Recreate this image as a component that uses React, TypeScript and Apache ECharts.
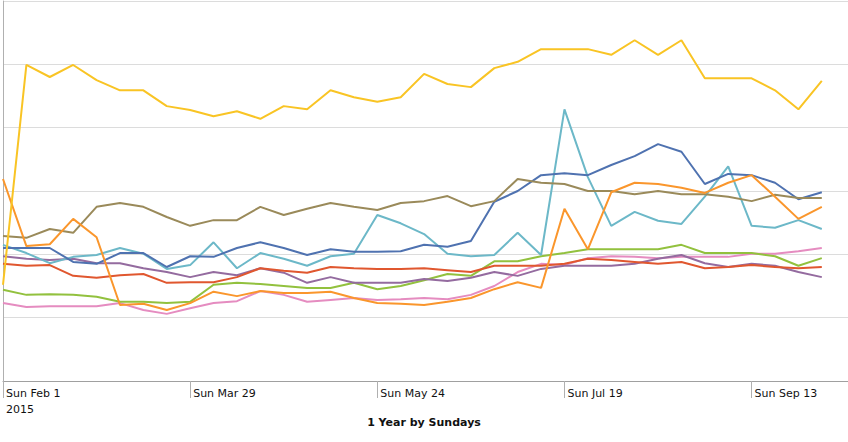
import React, { useEffect, useRef } from "react";
import * as echarts from "echarts";

// Week index 0 = Sun Feb 1 2015, one point per Sunday
const weekIndex = Array.from({ length: 36 }, (_, i) => i);
const tickWeeks = [0, 8, 16, 24, 32];
const tickLabels = ["Sun Feb 1\n2015", "Sun Mar 29", "Sun May 24", "Sun Jul 19", "Sun Sep 13"];
const axisTitle = "1 Year by Sundays";

const yellow = [152,499,480,499,475,459,459,434,428,418,426,414,434,429,459,448,441,448,485,469,464,494,504,524,524,524,515,538,515,538,478,478,478,459,429,474];
const olive = [229,226,240,234,275,281,275,259,245,254,254,275,262,272,281,275,270,281,284,292,276,284,319,313,311,300,300,295,300,295,295,291,284,294,289,289];
const blue = [210,210,210,188,185,202,202,180,197,196,210,219,210,199,208,204,204,205,215,212,221,283,300,325,328,325,341,355,374,362,311,327,325,313,287,298];
const cyan = [215,202,186,196,199,210,201,177,183,219,178,202,193,182,197,201,262,249,232,201,197,199,234,199,429,322,245,267,253,248,291,339,245,242,254,240];
const purple = [197,193,191,193,186,186,178,172,164,172,167,178,171,155,164,155,155,155,161,158,163,172,166,177,182,182,182,185,193,199,186,180,185,182,172,164];
const red = [185,182,183,166,163,167,169,155,156,156,164,178,174,171,180,178,177,177,178,175,172,182,182,182,185,193,191,188,185,188,178,180,183,180,178,180];
const orange = [319,213,216,256,227,120,122,112,123,141,134,142,139,139,141,131,123,122,120,125,131,145,156,147,272,208,298,313,311,305,297,313,325,291,256,275];
const green = [144,136,137,136,133,125,125,123,125,152,155,153,150,147,147,155,145,150,159,169,166,189,189,197,202,208,208,208,208,215,202,202,202,197,182,194];
const pink = [123,117,118,118,118,123,112,106,115,123,126,142,136,125,128,131,128,129,131,129,136,150,172,185,183,194,197,196,194,196,196,196,201,201,205,210];

const seriesDefs = [
  { name: "A", data: pink, color: "#e58cc0" },
  { name: "B", data: green, color: "#92c13e" },
  { name: "C", data: purple, color: "#946b9f" },
  { name: "D", data: red, color: "#e0572f" },
  { name: "E", data: cyan, color: "#6cb8c8" },
  { name: "F", data: blue, color: "#4f72b0" },
  { name: "G", data: olive, color: "#9a8a5a" },
  { name: "H", data: orange, color: "#fa962c" },
  { name: "I", data: yellow, color: "#f9c424" },
];

export default function App() {
  const ref = useRef<HTMLDivElement>(null);
  useEffect(() => {
    const chart = echarts.init(ref.current!, null, { renderer: "svg" });
    chart.setOption({
      animation: false,
      grid: { left: 1, right: 0, top: 1, bottom: 61, containLabel: false },
      title: {
        text: axisTitle,
        left: "center",
        top: 417,
        padding: 0,
        textStyle: { fontFamily: "DejaVu Sans", fontSize: 11, fontWeight: "bold", color: "#111" },
      },
      xAxis: {
        type: "value",
        min: 0,
        max: 36.12,
        interval: 8,
        splitLine: { show: false },
        axisLine: { show: true, lineStyle: { color: "#a0a0a0", width: 1 } },
        axisTick: { show: true, length: 17, lineStyle: { color: "#b0b0b0" }, customValues: tickWeeks },
        axisLabel: {
          customValues: tickWeeks,
          align: "left",
          verticalAlign: "top",
          margin: 4,
          padding: [0, 0, 0, 3],
          lineHeight: 16,
          fontFamily: "DejaVu Sans",
          fontSize: 11,
          color: "#111",
          formatter: (v: number) => {
            const i = tickWeeks.indexOf(Math.round(v));
            return i >= 0 && Math.abs(v - Math.round(v)) < 1e-6 ? tickLabels[i] : "";
          },
        },
      },
      yAxis: {
        type: "value",
        min: 0,
        max: 600,
        interval: 100,
        axisLabel: { show: false },
        axisTick: { show: false },
        axisLine: { show: true, lineStyle: { color: "#b0b0b0", width: 1 } },
        splitLine: { show: true, lineStyle: { color: "#dcdcdc", width: 1 } },
      },
      series: seriesDefs.map((s) => ({
        name: s.name,
        type: "line",
        data: s.data.map((v, i) => [weekIndex[i], v]),
        showSymbol: false,
        symbol: "none",
        lineStyle: { color: s.color, width: 2 },
        itemStyle: { color: s.color },
        emphasis: { disabled: true },
      })),
    });
    return () => chart.dispose();
  }, []);
  return (
    <div
      ref={ref}
      style={{ position: "fixed", left: 0, top: 0, width: 848, height: 442, background: "#fff" }}
    />
  );
}
